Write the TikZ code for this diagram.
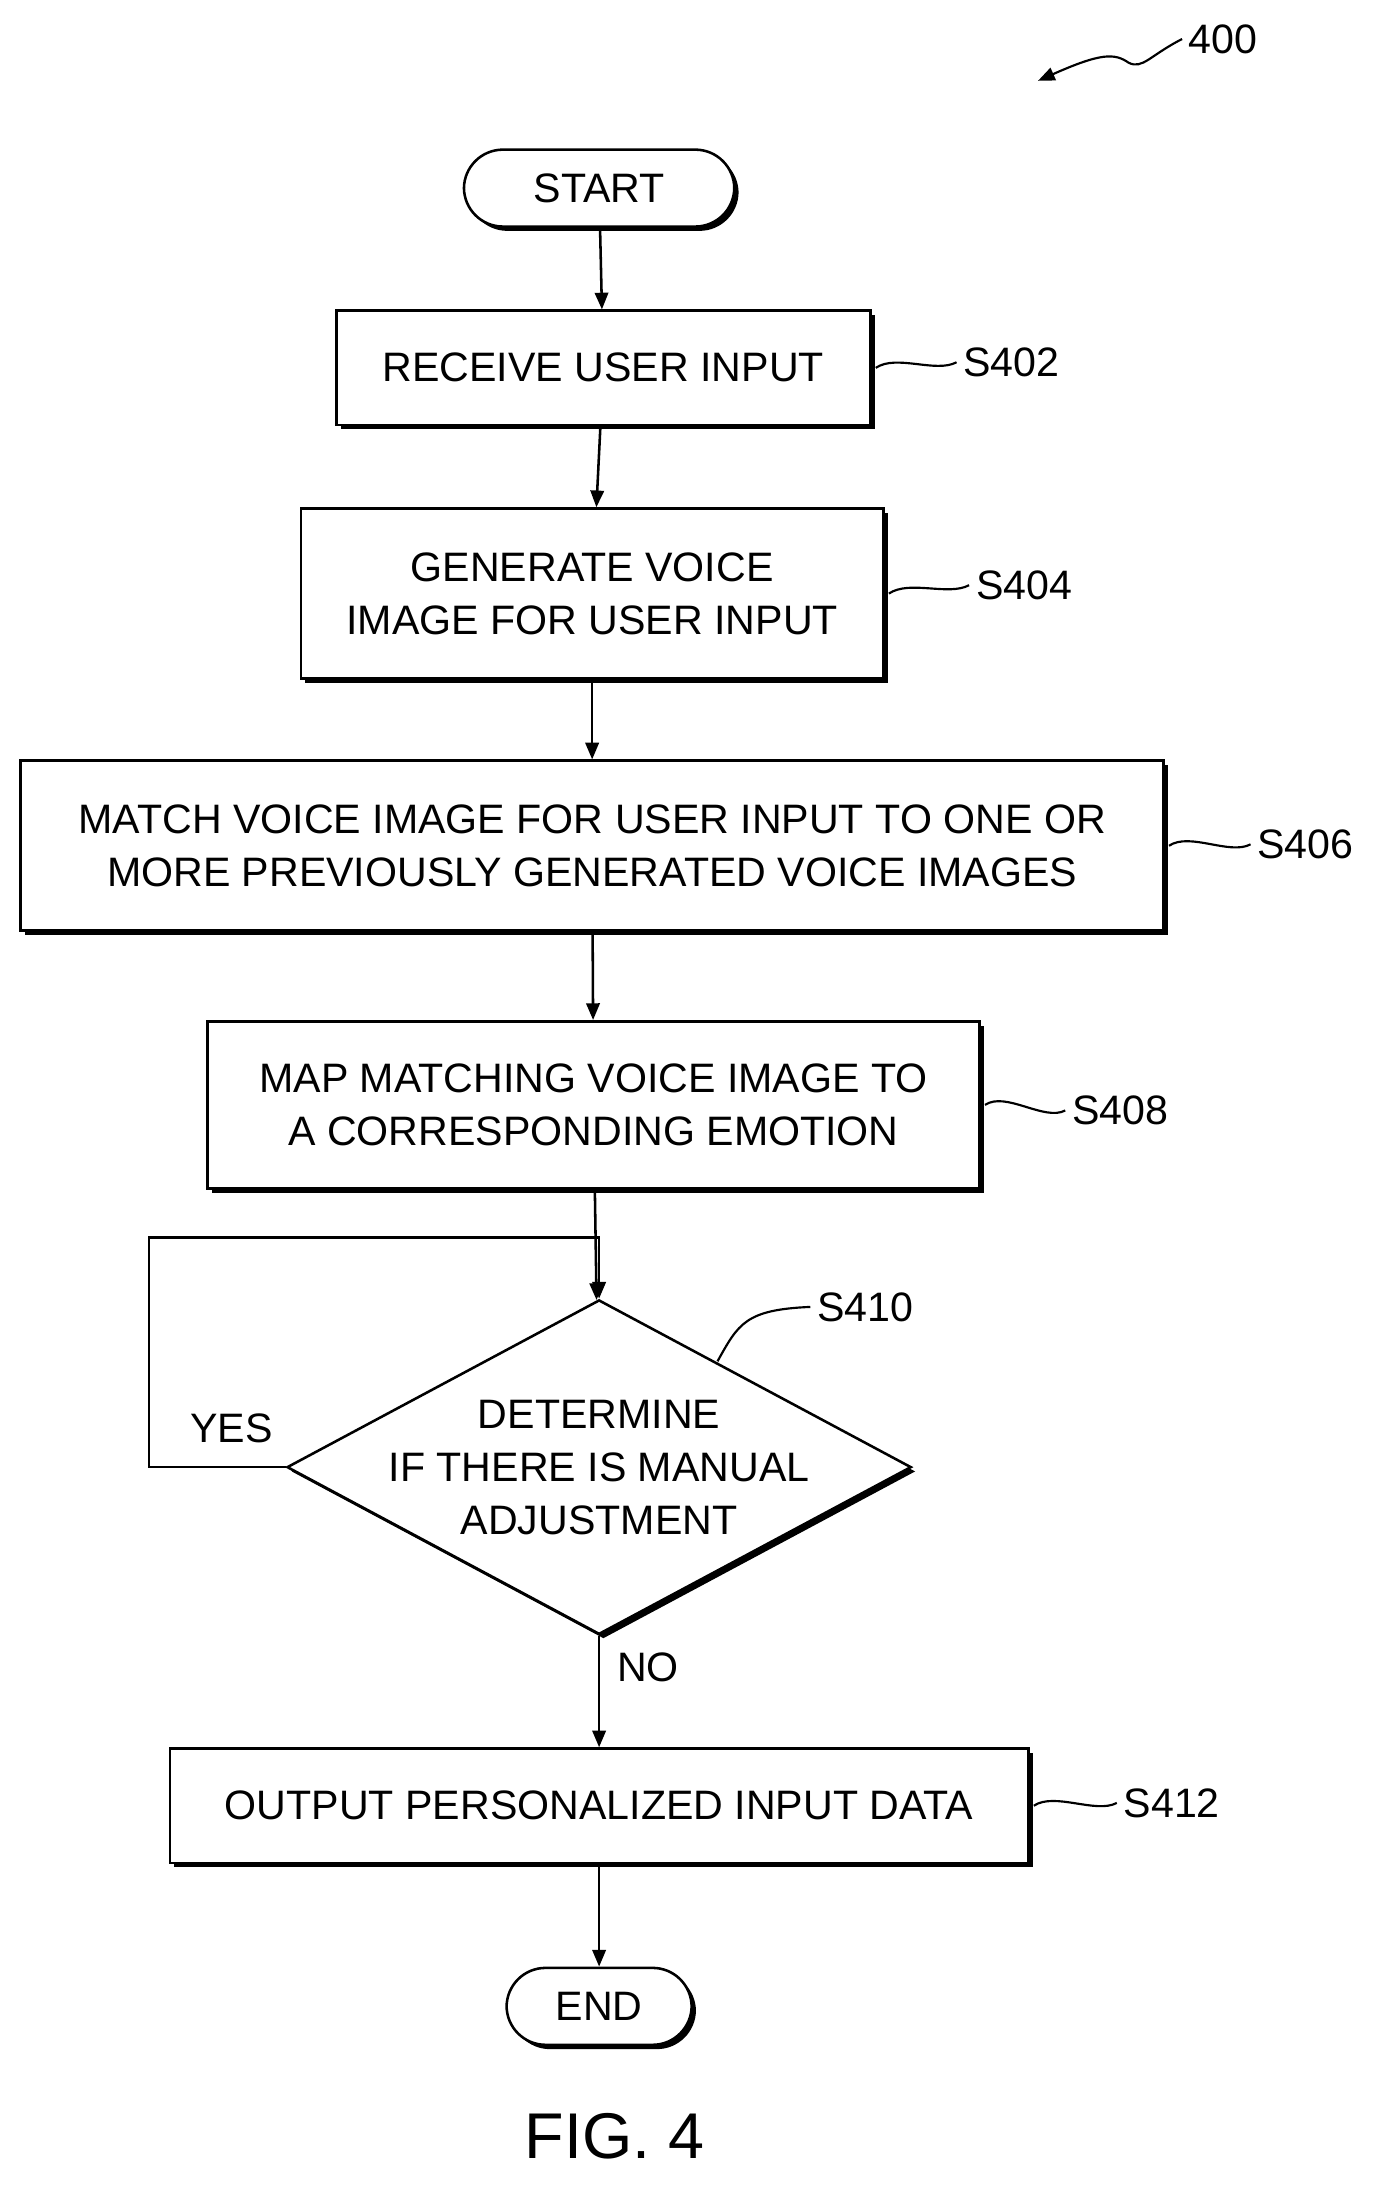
\documentclass[tikz,border=0pt]{standalone}
\usepackage{fontspec}
\setmainfont{Liberation Sans}
\usetikzlibrary{shapes.geometric, arrows.meta, shadows}

\begin{document}
\begin{tikzpicture}[
    x=0.025cm, y=-0.025cm,
    every node/.style={font=\fontsize{21}{27}\selectfont},
    shadowed/.style={drop shadow={shadow xshift=2.2pt, shadow yshift=-2.2pt, fill=black, opacity=1}},
    stepbox/.style={rectangle, draw, fill=white, line width=1.3pt, align=center, shadowed},
    termbox/.style={rectangle, rounded corners=0.7cm, draw, fill=white, line width=1.3pt, shadowed},
    decision/.style={diamond, draw, fill=white, line width=1.3pt, inner sep=0pt, minimum width=11.2cm, minimum height=6cm, shadowed},
    arrow/.style={-{Triangle[length=3mm, width=2.4mm]}, line width=1.3pt},
    leader/.style={line width=1.1pt}
]
\useasboundingbox (0,0) rectangle (1000,1579);

% Terminals and steps
\node[termbox, minimum width=4.85cm, minimum height=1.38cm] (start) at (430,135) {START};
\node[stepbox, minimum width=9.58cm, minimum height=2.05cm] (s402) at (433,264) {RECEIVE USER INPUT};
\node[stepbox, minimum width=10.45cm, minimum height=3.05cm] (s404) at (425,426) {GENERATE VOICE\\IMAGE FOR USER INPUT};
\node[stepbox, minimum width=20.5cm, minimum height=3.05cm] (s406) at (425,607) {MATCH VOICE IMAGE FOR USER INPUT TO ONE OR\\MORE PREVIOUSLY GENERATED VOICE IMAGES};
\node[stepbox, minimum width=13.85cm, minimum height=3cm] (s408) at (426,793) {MAP MATCHING VOICE IMAGE TO\\A CORRESPONDING EMOTION};
\node[decision] (s410) at (430,1053) {};
\node[align=center] (s410text) at (430,1053) {DETERMINE\\IF THERE IS MANUAL\\ADJUSTMENT};
\node[stepbox, minimum width=15.4cm, minimum height=2.05cm] (s412) at (430,1296) {OUTPUT PERSONALIZED INPUT DATA};
\node[termbox, minimum width=3.32cm, minimum height=1.38cm] (end) at (430,1440) {END};

% Step labels
\node (l402) at (726,260) {S402};
\node (l404) at (735,420) {S404};
\node (l406) at (937,606) {S406};
\node (l408) at (804,797) {S408};
\node (l410) at (621,938) {S410};
\node (l412) at (841,1294) {S412};
\node (yes) at (166,1025) {YES};
\node (no) at (465,1197) {NO};
\node (ref) at (878,28) {400};
\node[font=\fontsize{33}{40}\selectfont] (fig) at (441,1533) {FIG. 4};

% Leaders
\draw[leader] (s402.east) ++(3,0) .. controls +(15,-10) and +(-15,8) .. (l402.west);
\draw[leader] (s404.east) ++(3,0) .. controls +(15,-10) and +(-15,8) .. (l404.west);
\draw[leader] (s406.east) ++(3,0) .. controls +(15,-10) and +(-15,8) .. (l406.west);
\draw[leader] (s408.east) ++(3,0) .. controls +(15,-10) and +(-15,8) .. (l408.west);
\draw[leader] (s412.east) ++(3,0) .. controls +(15,-10) and +(-15,8) .. (l412.west);
\draw[leader] (515,977) .. controls (530,950) and (535,940) .. (l410.west);
\draw[leader, -{Triangle[length=3mm, width=2.4mm]}] (ref.west) .. controls (825,40) and (820,50) .. (810,45) .. controls (800,38) and (790,38) .. (745,58);

% Arrows
\draw[arrow] (start) -- (s402);
\draw[arrow] (s402) -- (s404);
\draw[arrow] (s404) -- (s406);
\draw[arrow] (s406) -- (s408);
\draw[arrow] (s408) -- (s410);
\draw[arrow] (s410.west) -- (107,1053) -- (107,888) -- (430,888) -- (s410.north);
\draw[arrow] (s410) -- (s412);
\draw[arrow] (s412) -- (end);

\end{tikzpicture}
\end{document}
